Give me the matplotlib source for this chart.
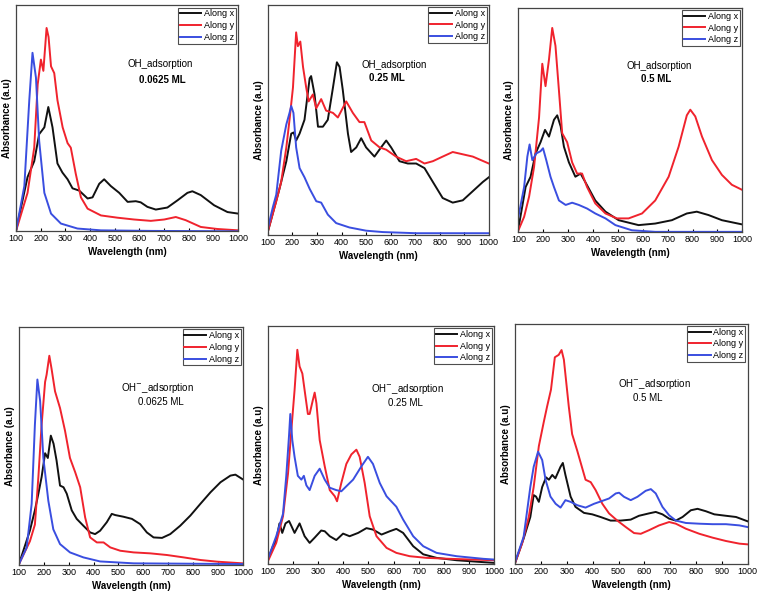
import numpy as np
import matplotlib
matplotlib.use('Agg')
import matplotlib.pyplot as plt

plt.rcParams['font.family'] = ['Liberation Sans', 'DejaVu Sans']

# ---- panel 1 : OH_adsorption 0.0625 ML
p1_x_wl = [100, 147, 174, 194, 215, 231, 248, 268, 288, 309, 329, 356, 390, 410, 437, 457, 484, 518, 552, 585, 605, 632, 666, 713, 754, 794, 814, 848, 902, 956, 1000]
p1_x = [0.0, 0.24, 0.31, 0.43, 0.46, 0.55, 0.46, 0.30, 0.26, 0.23, 0.19, 0.18, 0.145, 0.15, 0.21, 0.23, 0.20, 0.17, 0.13, 0.133, 0.128, 0.108, 0.096, 0.105, 0.137, 0.17, 0.177, 0.16, 0.115, 0.085, 0.078]
p1_y_wl = [100, 147, 174, 188, 201, 211, 224, 232, 242, 255, 268, 289, 309, 322, 342, 363, 390, 444, 511, 578, 646, 700, 747, 787, 848, 915, 1000]
p1_y = [0.0, 0.17, 0.37, 0.65, 0.76, 0.71, 0.90, 0.86, 0.73, 0.70, 0.58, 0.46, 0.39, 0.37, 0.255, 0.15, 0.10, 0.07, 0.06, 0.052, 0.046, 0.052, 0.063, 0.049, 0.019, 0.01, 0.004]
p1_z_wl = [100, 134, 154, 167, 181, 194, 215, 242, 282, 349, 444, 650, 1000]
p1_z = [0.0, 0.2, 0.58, 0.79, 0.68, 0.40, 0.17, 0.078, 0.034, 0.012, 0.004, 0.0015, 0.0]

# ---- panel 2 : OH_adsorption 0.25 ML
p2_x_wl = [100, 147, 175, 195, 205, 215, 229, 249, 270, 276, 290, 304, 324, 344, 365, 381, 392, 405, 426, 439, 460, 480, 500, 534, 561, 582, 602, 636, 670, 704, 738, 772, 812, 853, 894, 935, 976, 1000]
p2_x = [0.015, 0.20, 0.32, 0.44, 0.445, 0.41, 0.44, 0.50, 0.68, 0.69, 0.61, 0.47, 0.47, 0.50, 0.64, 0.75, 0.73, 0.63, 0.44, 0.36, 0.38, 0.42, 0.38, 0.34, 0.38, 0.41, 0.38, 0.32, 0.31, 0.31, 0.29, 0.23, 0.16, 0.14, 0.15, 0.19, 0.23, 0.25]
p2_y_wl = [100, 134, 154, 175, 188, 202, 215, 222, 232, 243, 256, 266, 283, 297, 317, 337, 365, 385, 419, 446, 473, 493, 521, 555, 582, 622, 663, 704, 738, 772, 812, 853, 894, 935, 1000]
p2_y = [0.015, 0.146, 0.23, 0.38, 0.50, 0.64, 0.88, 0.82, 0.84, 0.73, 0.64, 0.58, 0.61, 0.55, 0.59, 0.54, 0.53, 0.51, 0.58, 0.53, 0.49, 0.49, 0.41, 0.38, 0.37, 0.34, 0.32, 0.33, 0.31, 0.32, 0.34, 0.36, 0.35, 0.34, 0.31]
p2_z_wl = [100, 120, 134, 154, 175, 188, 195, 204, 215, 229, 249, 270, 297, 317, 344, 378, 432, 500, 568, 704, 1000]
p2_z = [0.03, 0.12, 0.175, 0.365, 0.48, 0.53, 0.56, 0.53, 0.38, 0.29, 0.25, 0.20, 0.146, 0.14, 0.088, 0.051, 0.032, 0.018, 0.012, 0.007, 0.007]

# ---- panel 3 : OH_adsorption 0.5 ML
p3_x_wl = [100, 129, 149, 169, 189, 207, 223, 243, 256, 270, 283, 303, 329, 350, 370, 409, 450, 503, 583, 650, 717, 777, 817, 864, 918, 1000]
p3_x = [0.015, 0.20, 0.246, 0.35, 0.40, 0.455, 0.425, 0.50, 0.52, 0.47, 0.38, 0.31, 0.246, 0.26, 0.22, 0.14, 0.09, 0.052, 0.03, 0.037, 0.052, 0.082, 0.09, 0.075, 0.052, 0.033]
p3_y_wl = [100, 123, 143, 163, 183, 196, 209, 223, 236, 249, 263, 276, 296, 316, 336, 356, 376, 409, 450, 496, 543, 597, 650, 704, 744, 777, 791, 811, 838, 878, 918, 958, 1000]
p3_y = [0.007, 0.067, 0.157, 0.29, 0.51, 0.75, 0.65, 0.77, 0.91, 0.83, 0.63, 0.44, 0.40, 0.31, 0.26, 0.26, 0.20, 0.127, 0.082, 0.06, 0.06, 0.082, 0.14, 0.246, 0.38, 0.52, 0.545, 0.515, 0.425, 0.32, 0.254, 0.21, 0.187]
p3_z_wl = [100, 123, 136, 145, 156, 172, 189, 199, 212, 229, 243, 263, 290, 316, 343, 376, 409, 450, 490, 556, 650, 1000]
p3_z = [0.067, 0.20, 0.336, 0.39, 0.32, 0.35, 0.36, 0.373, 0.32, 0.246, 0.20, 0.14, 0.12, 0.13, 0.12, 0.104, 0.082, 0.06, 0.03, 0.007, 0.0, 0.0]

# ---- panel 4 : OH- adsorption 0.0625 ML
p4_x_wl = [100, 144, 164, 178, 191, 205, 216, 228, 239, 251, 265, 279, 292, 312, 332, 359, 386, 406, 426, 453, 473, 487, 520, 554, 587, 614, 641, 675, 708, 748, 789, 829, 870, 910, 950, 970, 1000]
p4_x = [0.004, 0.145, 0.23, 0.30, 0.37, 0.47, 0.45, 0.544, 0.51, 0.44, 0.334, 0.327, 0.30, 0.23, 0.194, 0.165, 0.137, 0.13, 0.144, 0.18, 0.215, 0.21, 0.203, 0.194, 0.172, 0.137, 0.116, 0.114, 0.13, 0.165, 0.208, 0.257, 0.306, 0.348, 0.376, 0.38, 0.36]
p4_y_wl = [100, 144, 164, 178, 191, 205, 211, 222, 231, 245, 265, 285, 305, 326, 346, 366, 386, 413, 440, 467, 507, 561, 628, 695, 762, 830, 897, 1000]
p4_y = [0.004, 0.10, 0.17, 0.37, 0.59, 0.77, 0.80, 0.88, 0.825, 0.73, 0.66, 0.565, 0.45, 0.39, 0.327, 0.20, 0.116, 0.095, 0.095, 0.074, 0.06, 0.053, 0.049, 0.042, 0.032, 0.021, 0.014, 0.007]
p4_z_wl = [100, 131, 151, 164, 174, 185, 198, 218, 238, 265, 305, 359, 426, 561, 1000]
p4_z = [0.004, 0.074, 0.257, 0.59, 0.78, 0.69, 0.45, 0.27, 0.15, 0.088, 0.053, 0.032, 0.015, 0.007, 0.004]

# ---- panel 5 : OH- adsorption 0.25 ML
p5_x_wl = [100, 120, 133, 146, 157, 170, 184, 193, 206, 226, 246, 266, 286, 312, 326, 346, 372, 399, 425, 459, 492, 518, 552, 585, 611, 638, 678, 718, 771, 851, 957, 1000]
p5_x = [0.018, 0.074, 0.10, 0.17, 0.13, 0.17, 0.18, 0.16, 0.13, 0.17, 0.116, 0.088, 0.11, 0.14, 0.137, 0.116, 0.10, 0.127, 0.116, 0.13, 0.15, 0.144, 0.123, 0.137, 0.147, 0.13, 0.074, 0.04, 0.025, 0.015, 0.007, 0.004]
p5_y_wl = [100, 133, 160, 180, 193, 206, 217, 226, 237, 246, 259, 266, 279, 286, 293, 306, 326, 346, 366, 375, 392, 412, 432, 452, 465, 485, 505, 532, 572, 611, 664, 731, 824, 1000]
p5_y = [0.011, 0.088, 0.20, 0.38, 0.56, 0.73, 0.90, 0.83, 0.80, 0.73, 0.63, 0.63, 0.69, 0.72, 0.675, 0.52, 0.41, 0.31, 0.284, 0.263, 0.34, 0.42, 0.46, 0.48, 0.45, 0.34, 0.20, 0.116, 0.067, 0.046, 0.032, 0.025, 0.021, 0.015]
p5_z_wl = [100, 133, 160, 173, 184, 189, 197, 206, 219, 233, 243, 253, 266, 286, 306, 326, 346, 372, 392, 412, 439, 472, 498, 518, 545, 572, 611, 638, 678, 718, 771, 851, 957, 1000]
p5_z = [0.021, 0.116, 0.21, 0.37, 0.54, 0.63, 0.52, 0.45, 0.37, 0.354, 0.37, 0.33, 0.31, 0.37, 0.40, 0.354, 0.32, 0.31, 0.305, 0.326, 0.354, 0.41, 0.45, 0.42, 0.34, 0.284, 0.24, 0.186, 0.116, 0.074, 0.046, 0.032, 0.021, 0.018]

# ---- panel 6 : OH- adsorption 0.5 ML
p6_x_wl = [100, 132, 158, 171, 180, 191, 204, 219, 230, 243, 255, 275, 284, 294, 314, 333, 366, 398, 430, 469, 508, 547, 579, 618, 644, 670, 696, 722, 748, 780, 806, 838, 871, 916, 955, 1000]
p6_x = [0.007, 0.105, 0.195, 0.286, 0.28, 0.258, 0.32, 0.36, 0.35, 0.37, 0.356, 0.404, 0.42, 0.37, 0.28, 0.237, 0.212, 0.206, 0.195, 0.18, 0.18, 0.184, 0.20, 0.21, 0.216, 0.206, 0.188, 0.18, 0.195, 0.223, 0.229, 0.219, 0.206, 0.20, 0.195, 0.177]
p6_y_wl = [100, 126, 152, 171, 191, 210, 223, 238, 253, 268, 279, 288, 307, 320, 340, 372, 392, 411, 437, 463, 495, 528, 560, 586, 618, 657, 696, 722, 761, 813, 864, 916, 968, 1000]
p6_y = [0.007, 0.084, 0.195, 0.32, 0.49, 0.59, 0.655, 0.725, 0.86, 0.87, 0.89, 0.85, 0.655, 0.54, 0.47, 0.35, 0.34, 0.307, 0.25, 0.21, 0.18, 0.153, 0.128, 0.125, 0.14, 0.16, 0.174, 0.167, 0.146, 0.125, 0.109, 0.095, 0.084, 0.081]
p6_z_wl = [100, 132, 158, 171, 188, 204, 217, 236, 256, 275, 294, 314, 340, 372, 405, 437, 463, 489, 502, 521, 547, 573, 605, 625, 644, 670, 696, 722, 761, 813, 864, 916, 968, 1000]
p6_z = [0.011, 0.112, 0.32, 0.404, 0.467, 0.432, 0.35, 0.28, 0.25, 0.234, 0.265, 0.258, 0.244, 0.234, 0.25, 0.262, 0.272, 0.293, 0.296, 0.279, 0.265, 0.279, 0.304, 0.311, 0.293, 0.237, 0.202, 0.18, 0.17, 0.167, 0.165, 0.165, 0.16, 0.153]

ticks = [100, 200, 300, 400, 500, 600, 700, 800, 900, 1000]
series_names = ['Along x', 'Along y', 'Along z']
colors = ['#111111', '#f0232d', '#3a4ee0']

panels = [
    ((p1_x_wl, p1_x), (p1_y_wl, p1_y), (p1_z_wl, p1_z)),
    ((p2_x_wl, p2_x), (p2_y_wl, p2_y), (p2_z_wl, p2_z)),
    ((p3_x_wl, p3_x), (p3_y_wl, p3_y), (p3_z_wl, p3_z)),
    ((p4_x_wl, p4_x), (p4_y_wl, p4_y), (p4_z_wl, p4_z)),
    ((p5_x_wl, p5_x), (p5_y_wl, p5_y), (p5_z_wl, p5_z)),
    ((p6_x_wl, p6_x), (p6_y_wl, p6_y), (p6_z_wl, p6_z)),
]
titles1 = ['OH_adsorption'] * 3 + ['OH$^{-}$_adsorption'] * 3
titles2 = ['0.0625 ML', '0.25 ML', '0.5 ML', '0.0625 ML', '0.25 ML', '0.5 ML']

# axes boxes [left, bottom, width, height] in figure fraction
boxes = [
    [0.021, 0.612, 0.293, 0.379],
    [0.353, 0.606, 0.291, 0.386],
    [0.683, 0.611, 0.295, 0.376],
    [0.025, 0.052, 0.295, 0.399],
    [0.353, 0.054, 0.298, 0.399],
    [0.679, 0.054, 0.306, 0.403],
]
txt_pos = [
    (0.50, 0.74, 0.554, 0.668),
    (0.425, 0.74, 0.457, 0.683),
    (0.482, 0.74, 0.549, 0.683),
    (0.455, 0.744, 0.53, 0.685),
    (0.456, 0.735, 0.53, 0.676),
    (0.44, 0.75, 0.505, 0.69),
]

fig = plt.figure(figsize=(7.59, 5.96), dpi=100)
fig.patch.set_facecolor('white')

for i, pan in enumerate(panels):
    ax = fig.add_axes(boxes[i])
    for (wl, v), name, c in zip(pan, series_names, colors):
        ax.plot(wl, v, color=c, lw=1.4, label=name)
    ax.set_xlim(100, 1000)
    ax.set_ylim(0, 1)
    ax.set_xticks(ticks)
    ax.set_yticks([])
    ax.tick_params(axis='x', labelsize=6.5, length=2, direction='in', pad=2)
    ax.set_xlabel('Wavelength (nm)', fontsize=7, fontweight='bold', labelpad=3)
    ax.set_ylabel('Absorbance (a.u)', fontsize=7, fontweight='bold', labelpad=3)
    for s in ax.spines.values():
        s.set_color('#444444')
        s.set_linewidth(0.9)
    leg = ax.legend(loc='upper right', fontsize=6.5, frameon=True, fancybox=False,
                    borderpad=0.2, labelspacing=0.3, handlelength=2.4,
                    handletextpad=0.3, borderaxespad=0.25)
    leg.get_frame().set_edgecolor('#222222')
    leg.get_frame().set_linewidth(0.8)
    x1, y1, x2, y2 = txt_pos[i]
    ax.text(x1, y1, titles1[i], transform=ax.transAxes, fontsize=7, va='center', ha='left')
    ax.text(x2, y2, titles2[i], transform=ax.transAxes, fontsize=7, va='center', ha='left',
            fontweight='bold' if i < 3 else 'normal')

fig.savefig('out.png', dpi=100)
